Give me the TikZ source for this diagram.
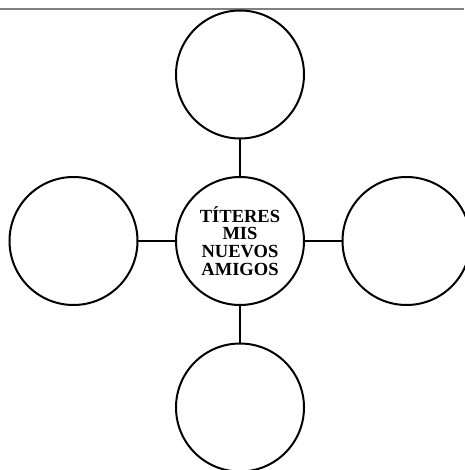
\documentclass[tikz,border=0pt]{standalone}
\usepackage{fontspec}
\setmainfont{Liberation Serif}
\usetikzlibrary{positioning}

\begin{document}
\begin{tikzpicture}[font=\fontsize{18.5}{17.7}\selectfont\bfseries, node distance=38.5pt,
    idea/.style={draw, circle, line width=2pt, minimum size=128pt, inner sep=0pt, outer sep=0pt},
    link/.style={line width=2pt}]
    \useasboundingbox (0,0) rectangle (464pt,-470pt);
    \draw[gray, line width=1.6pt] (0,-9pt) -- (464pt,-9pt);
    \node[idea, align=center] (tema) at (240pt,-241pt) {TÍTERES\\MIS\\NUEVOS\\AMIGOS};
    \node[idea, above=of tema] (arriba) {};
    \node[idea, left=of tema] (izq) {};
    \node[idea, right=of tema] (der) {};
    \node[idea, below=of tema] (abajo) {};
    \draw[link] (tema) -- (arriba);
    \draw[link] (tema) -- (izq);
    \draw[link] (tema) -- (der);
    \draw[link] (tema) -- (abajo);
\end{tikzpicture}
\end{document}
